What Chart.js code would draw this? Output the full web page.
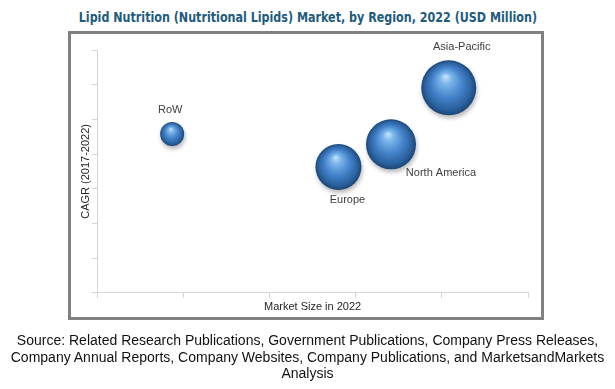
<!DOCTYPE html>
<html>
<head>
<meta charset="utf-8">
<script src="https://cdn.jsdelivr.net/npm/chart.js@4.4.1/dist/chart.umd.min.js"></script>
<style>
  html, body { margin: 0; padding: 0; background: #ffffff; }
  #wrap { position: relative; width: 615px; height: 389px; overflow: hidden; }
  #title { position: absolute; left: 0; top: 7px; width: 615px; text-align: center; white-space: nowrap; }
  #title span { display: inline-block; transform: scaleX(0.917); transform-origin: center;
    font-family: "Liberation Sans Narrow", "DejaVu Sans Condensed", sans-serif; font-weight: bold;
    font-size: 13.5px; line-height: 20px; color: #1e5b7c; }
  #frame { position: absolute; left: 68px; top: 31px; width: 476px; height: 289px;
    box-sizing: border-box; border: 3px solid #808080; }
  #chart { position: absolute; left: 0; top: 0; }
  #source { position: absolute; left: 0; top: 332px; width: 615px; text-align: center;
    font-family: "Liberation Sans", Arial, sans-serif; font-size: 14px; line-height: 16.5px; color: #111; }
</style>
</head>
<body>
<div id="wrap">
  <div id="title"><span id="titleText"></span></div>
  <div id="frame"></div>
  <canvas id="chart" width="615" height="389"></canvas>
  <div id="source"></div>
</div>
<script>
const chartTitle = "Lipid Nutrition (Nutritional Lipids) Market, by Region, 2022 (USD Million)";
const sourceLines = [
  "Source: Related Research Publications, Government Publications, Company Press Releases,",
  "Company Annual Reports, Company Websites, Company Publications, and MarketsandMarkets",
  "Analysis"
];
const xAxisTitle = "Market Size in 2022";
const yAxisTitle = "CAGR (2017-2022)";

const regions = ["RoW", "Europe", "North America", "Asia-Pacific"];
const marketSize = [0.87, 2.80, 3.41, 4.08];
const cagr = [4.58, 3.63, 4.28, 5.91];
const bubbleSize = [12, 23, 25, 27.5];

// label placement relative to bubble centre (style only)
const labelOffsets = [[-2, -24], [9, 33], [50, 29], [13, -41]];

document.getElementById('titleText').textContent = chartTitle;
document.getElementById('source').innerHTML = sourceLines.map(s => s.replace(/&/g,'&amp;')).join('<br>');

const points = regions.map((r, i) => ({ x: marketSize[i], y: cagr[i], r: bubbleSize[i] }));

function sphereFill(ctx) {
  const chart = ctx.chart;
  const raw = ctx.raw;
  if (!raw || !chart.scales.x || !chart.scales.y) return '#4a86c8';
  const cx = chart.scales.x.getPixelForValue(raw.x);
  const cy = chart.scales.y.getPixelForValue(raw.y);
  const r = raw.r;
  if (!isFinite(cx) || !isFinite(cy)) return '#4a86c8';
  const g = chart.ctx.createRadialGradient(cx - 0.12 * r, cy - 0.42 * r, 0, cx, cy, r);
  g.addColorStop(0, '#c4e6fc');
  g.addColorStop(0.22, '#79b4ea');
  g.addColorStop(0.55, '#4583cb');
  g.addColorStop(0.85, '#2a619f');
  g.addColorStop(1, '#1b4576');
  return g;
}

const shadowPlugin = {
  id: 'sphereShadow',
  beforeDatasetsDraw(chart) {
    const c = chart.ctx;
    c.save();
    c.shadowColor = 'rgba(0,0,0,0.28)';
    c.shadowBlur = 4;
    c.shadowOffsetX = 1;
    c.shadowOffsetY = 3;
  },
  afterDatasetsDraw(chart) {
    chart.ctx.restore();
  }
};

const labelPlugin = {
  id: 'bubbleLabels',
  afterDatasetsDraw(chart) {
    const c = chart.ctx;
    const meta = chart.getDatasetMeta(0);
    c.save();
    c.font = '11px "Liberation Sans", Arial, sans-serif';
    c.fillStyle = '#404040';
    c.textAlign = 'center';
    c.textBaseline = 'middle';
    meta.data.forEach((el, i) => {
      const off = labelOffsets[i];
      c.fillText(regions[i], el.x + off[0], el.y + off[1]);
    });
    c.restore();
  }
};

const axisColor = '#d4d4d4';

new Chart(document.getElementById('chart'), {
  type: 'bubble',
  data: {
    datasets: [{
      label: 'Regions',
      data: points,
      backgroundColor: sphereFill,
      hoverBackgroundColor: sphereFill,
      borderWidth: 0,
      hoverBorderWidth: 0
    }]
  },
  options: {
    responsive: false,
    animation: false,
    devicePixelRatio: 1,
    layout: { padding: { left: 69, right: 87, top: 50, bottom: 75 } },
    plugins: {
      legend: { display: false },
      title: { display: false },
      tooltip: { enabled: false }
    },
    scales: {
      x: {
        type: 'linear',
        min: 0, max: 5,
        ticks: { display: false, stepSize: 1 },
        grid: { display: true, drawOnChartArea: false, drawTicks: true, tickLength: 5, color: axisColor },
        border: { display: true, color: axisColor, width: 1 },
        title: { display: true, text: xAxisTitle, color: '#262626',
          font: { family: '"Liberation Sans", Arial, sans-serif', size: 11 }, padding: { top: 3, bottom: 0 } }
      },
      y: {
        type: 'linear',
        min: 0, max: 7,
        ticks: { display: false, stepSize: 1 },
        grid: { display: true, drawOnChartArea: false, drawTicks: true, tickLength: 5, color: axisColor },
        border: { display: true, color: axisColor, width: 1 },
        title: { display: true, text: yAxisTitle, color: '#262626',
          font: { family: '"Liberation Sans", Arial, sans-serif', size: 11 }, padding: { top: 10, bottom: 0 } }
      }
    }
  },
  plugins: [shadowPlugin, labelPlugin]
});
</script>
</body>
</html>
